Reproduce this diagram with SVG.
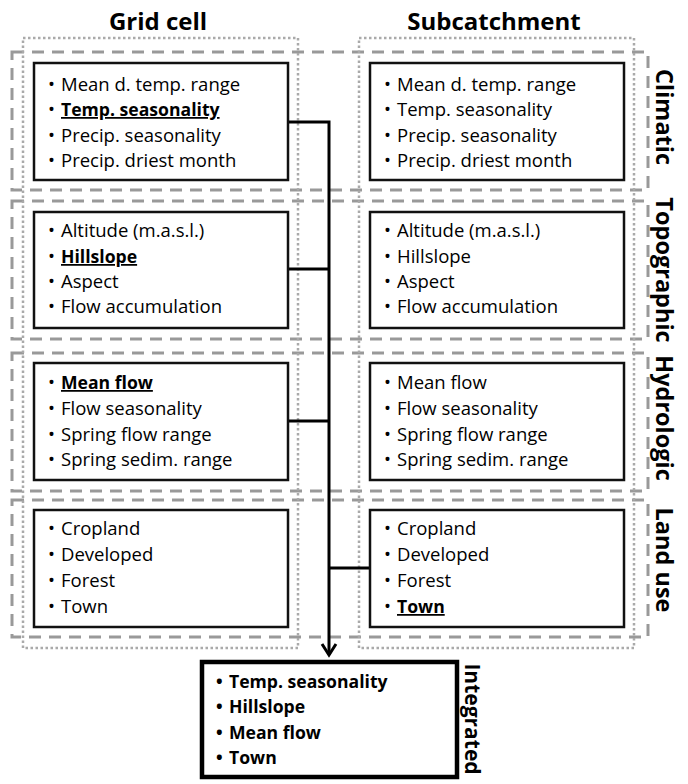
<svg xmlns="http://www.w3.org/2000/svg" width="688" height="784" viewBox="0 0 688 784">
<defs>
<style>
.dash{fill:none;stroke:#999;stroke-width:3;stroke-dasharray:12 8}
.dot{fill:none;stroke:#aaa;stroke-width:2.5;stroke-dasharray:2.5 2.5}
.box{fill:#fff;stroke:#111;stroke-width:2.5}
.ibox{fill:#fff;stroke:#000;stroke-width:4.5}
.t{font-family:"Open Sans","Noto Sans",sans-serif;font-size:18.5px;fill:#000}
.b{font-weight:bold;font-size:17.6px}
.u{text-decoration:underline}
.h{font-family:"Open Sans","Noto Sans",sans-serif;font-size:24px;font-weight:bold;fill:#000;text-anchor:middle}
.s{font-family:"Open Sans","Noto Sans",sans-serif;font-size:23.5px;font-weight:bold;fill:#000;text-anchor:middle}
.c{fill:none;stroke:#000;stroke-width:3}
</style>
</defs>
<rect width="688" height="784" fill="#fff"/>

<g id="frames">
<rect class="dash" x="12" y="52" width="636" height="138"/>
<rect class="dash" x="12" y="201" width="636" height="138"/>
<rect class="dash" x="12" y="353" width="636" height="138"/>
<rect class="dash" x="12" y="500" width="636" height="137"/>
<rect class="dot" x="23" y="38" width="275" height="610"/>
<rect class="dot" x="359" y="38" width="275" height="610"/>
</g>

<g id="headers">
<text class="h" x="158" y="30">Grid cell</text>
<text class="h" x="494" y="30">Subcatchment</text>
</g>

<g id="labels">
<text class="s" transform="translate(656,117) rotate(90)">Climatic</text>
<text class="s" transform="translate(656,270) rotate(90)">Topographic</text>
<text class="s" transform="translate(656,418) rotate(90)">Hydrologic</text>
<text class="s" transform="translate(656,560) rotate(90)">Land use</text>
<text class="s" style="font-size:21px" transform="translate(465,719) rotate(90)">Integrated</text>
</g>

<g id="connectors">
<polyline class="c" points="288,122 329,122 329,655"/>
<line class="c" x1="288" y1="269" x2="329" y2="269"/>
<line class="c" x1="288" y1="421" x2="329" y2="421"/>
<line class="c" x1="370" y1="568" x2="329" y2="568"/>
<polyline class="c" points="322,644 329,655 336,644" stroke-width="3.5"/>
</g>

<g id="grid-climatic">
<rect class="box" x="34" y="63" width="254" height="117"/>
<text class="t"><tspan x="48" y="91">•</tspan><tspan x="61" y="91">Mean d. temp. range</tspan></text>
<text class="t"><tspan x="48" y="116">•</tspan><tspan x="61" y="116" class="b u">Temp. seasonality</tspan></text>
<text class="t"><tspan x="48" y="142">•</tspan><tspan x="61" y="142">Precip. seasonality</tspan></text>
<text class="t"><tspan x="48" y="167">•</tspan><tspan x="61" y="167">Precip. driest month</tspan></text>
</g>

<g id="sub-climatic">
<rect class="box" x="370" y="63" width="254" height="117"/>
<text class="t"><tspan x="384" y="91">•</tspan><tspan x="397" y="91">Mean d. temp. range</tspan></text>
<text class="t"><tspan x="384" y="116">•</tspan><tspan x="397" y="116">Temp. seasonality</tspan></text>
<text class="t"><tspan x="384" y="142">•</tspan><tspan x="397" y="142">Precip. seasonality</tspan></text>
<text class="t"><tspan x="384" y="167">•</tspan><tspan x="397" y="167">Precip. driest month</tspan></text>
</g>

<g id="grid-topographic">
<rect class="box" x="34" y="212" width="254" height="116"/>
<text class="t"><tspan x="48" y="237">•</tspan><tspan x="61" y="237">Altitude (m.a.s.l.)</tspan></text>
<text class="t"><tspan x="48" y="263">•</tspan><tspan x="61" y="263" class="b u">Hillslope</tspan></text>
<text class="t"><tspan x="48" y="288">•</tspan><tspan x="61" y="288">Aspect</tspan></text>
<text class="t"><tspan x="48" y="313">•</tspan><tspan x="61" y="313">Flow accumulation</tspan></text>
</g>

<g id="sub-topographic">
<rect class="box" x="370" y="212" width="254" height="116"/>
<text class="t"><tspan x="384" y="237">•</tspan><tspan x="397" y="237">Altitude (m.a.s.l.)</tspan></text>
<text class="t"><tspan x="384" y="263">•</tspan><tspan x="397" y="263">Hillslope</tspan></text>
<text class="t"><tspan x="384" y="288">•</tspan><tspan x="397" y="288">Aspect</tspan></text>
<text class="t"><tspan x="384" y="313">•</tspan><tspan x="397" y="313">Flow accumulation</tspan></text>
</g>

<g id="grid-hydrologic">
<rect class="box" x="34" y="363" width="254" height="117"/>
<text class="t"><tspan x="48" y="389">•</tspan><tspan x="61" y="389" class="b u">Mean flow</tspan></text>
<text class="t"><tspan x="48" y="415">•</tspan><tspan x="61" y="415">Flow seasonality</tspan></text>
<text class="t"><tspan x="48" y="441">•</tspan><tspan x="61" y="441">Spring flow range</tspan></text>
<text class="t"><tspan x="48" y="466">•</tspan><tspan x="61" y="466">Spring sedim. range</tspan></text>
</g>

<g id="sub-hydrologic">
<rect class="box" x="370" y="363" width="254" height="117"/>
<text class="t"><tspan x="384" y="389">•</tspan><tspan x="397" y="389">Mean flow</tspan></text>
<text class="t"><tspan x="384" y="415">•</tspan><tspan x="397" y="415">Flow seasonality</tspan></text>
<text class="t"><tspan x="384" y="441">•</tspan><tspan x="397" y="441">Spring flow range</tspan></text>
<text class="t"><tspan x="384" y="466">•</tspan><tspan x="397" y="466">Spring sedim. range</tspan></text>
</g>

<g id="grid-landuse">
<rect class="box" x="34" y="510" width="254" height="117"/>
<text class="t"><tspan x="48" y="535">•</tspan><tspan x="61" y="535">Cropland</tspan></text>
<text class="t"><tspan x="48" y="561">•</tspan><tspan x="61" y="561">Developed</tspan></text>
<text class="t"><tspan x="48" y="587">•</tspan><tspan x="61" y="587">Forest</tspan></text>
<text class="t"><tspan x="48" y="613">•</tspan><tspan x="61" y="613">Town</tspan></text>
</g>

<g id="sub-landuse">
<rect class="box" x="370" y="510" width="254" height="117"/>
<text class="t"><tspan x="384" y="535">•</tspan><tspan x="397" y="535">Cropland</tspan></text>
<text class="t"><tspan x="384" y="561">•</tspan><tspan x="397" y="561">Developed</tspan></text>
<text class="t"><tspan x="384" y="587">•</tspan><tspan x="397" y="587">Forest</tspan></text>
<text class="t"><tspan x="384" y="613">•</tspan><tspan x="397" y="613" class="b u">Town</tspan></text>
</g>

<g id="integrated">
<rect class="ibox" x="202" y="662" width="255" height="115"/>
<text class="t b"><tspan x="216" y="688">•</tspan><tspan x="229" y="688">Temp. seasonality</tspan></text>
<text class="t b"><tspan x="216" y="713">•</tspan><tspan x="229" y="713">Hillslope</tspan></text>
<text class="t b"><tspan x="216" y="739">•</tspan><tspan x="229" y="739">Mean flow</tspan></text>
<text class="t b"><tspan x="216" y="764">•</tspan><tspan x="229" y="764">Town</tspan></text>
</g>
</svg>
